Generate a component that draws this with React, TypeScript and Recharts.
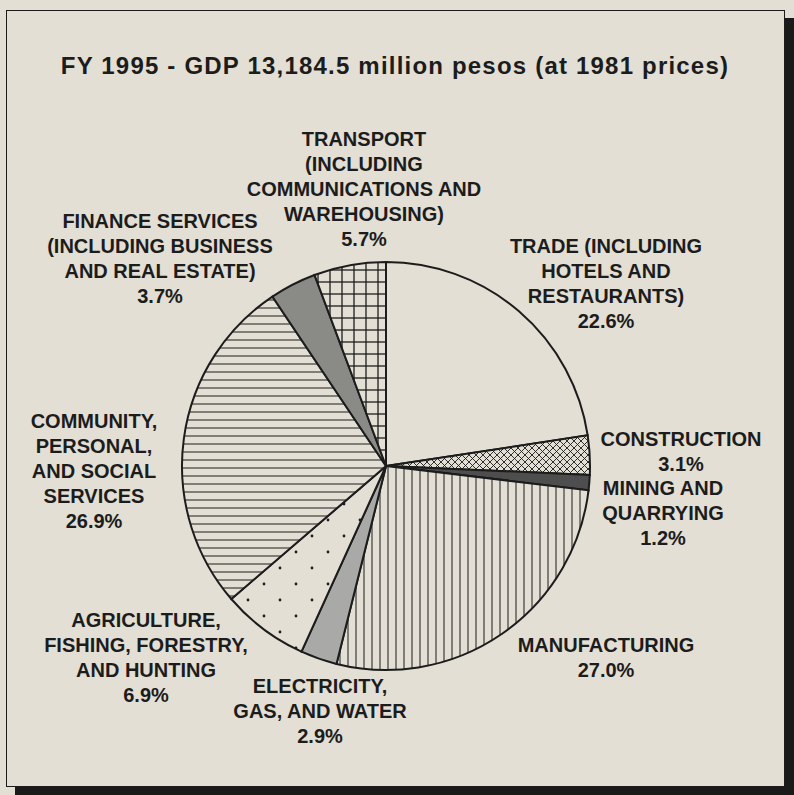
import React from "react";
import { PieChart, Pie, Cell } from "recharts";

// FY 1995 GDP shares, clockwise from 12 o'clock
const sectors = [
  "TRADE (INCLUDING HOTELS AND RESTAURANTS)",
  "CONSTRUCTION",
  "MINING AND QUARRYING",
  "MANUFACTURING",
  "ELECTRICITY, GAS, AND WATER",
  "AGRICULTURE, FISHING, FORESTRY, AND HUNTING",
  "COMMUNITY, PERSONAL, AND SOCIAL SERVICES",
  "FINANCE SERVICES (INCLUDING BUSINESS AND REAL ESTATE)",
  "TRANSPORT (INCLUDING COMMUNICATIONS AND WAREHOUSING)",
];
const shares = [22.6, 3.1, 1.2, 27.0, 2.9, 6.9, 26.9, 3.7, 5.7];
const labelLines = [
  ["TRADE (INCLUDING", "HOTELS AND", "RESTAURANTS)"],
  ["CONSTRUCTION"],
  ["MINING AND", "QUARRYING"],
  ["MANUFACTURING"],
  ["ELECTRICITY,", "GAS, AND WATER"],
  ["AGRICULTURE,", "FISHING, FORESTRY,", "AND HUNTING"],
  ["COMMUNITY,", "PERSONAL,", "AND SOCIAL", "SERVICES"],
  ["FINANCE SERVICES", "(INCLUDING BUSINESS", "AND REAL ESTATE)"],
  ["TRANSPORT", "(INCLUDING", "COMMUNICATIONS AND", "WAREHOUSING)"],
];

const BG = "#e3dfd5";
const INK = "#1c1c1c";
const FONT = "'Liberation Sans', Arial, sans-serif";

const fills = [
  BG,
  "url(#cross)",
  "#4e4e4e",
  "url(#vlines)",
  "#a9a9a7",
  "url(#dots)",
  "url(#hlines)",
  "#8a8a87",
  "url(#grid)",
];

// where each label block sits (centre x, first baseline y)
const labelPos = [
  [606, 253],
  [681, 446],
  [663, 495],
  [606, 652],
  [320, 693],
  [146, 627],
  [94, 428],
  [160, 228],
  [364, 146],
];

const data = sectors.map((name, i) => ({ name, value: shares[i] }));

function SliceLabel(props: any) {
  const i = props.index;
  const [x, y] = labelPos[i];
  const lines = [...labelLines[i], `${shares[i].toFixed(1)}%`];
  return (
    <text
      x={x}
      y={y}
      textAnchor="middle"
      fontFamily={FONT}
      fontWeight="bold"
      fontSize={20}
      fill={INK}
    >
      {lines.map((l, k) => (
        <tspan key={k} x={x} y={y + k * 25}>
          {l}
        </tspan>
      ))}
    </text>
  );
}

export default function App() {
  return (
    <div
      style={{
        position: "absolute",
        left: 0,
        top: 0,
        width: 794,
        height: 795,
        background: BG,
        overflow: "hidden",
      }}
    >
      <svg width={0} height={0} style={{ position: "absolute" }}>
        <defs>
          <pattern id="vlines" width={8} height={8} patternUnits="userSpaceOnUse">
            <rect width={8} height={8} fill={BG} />
            <line x1={4} y1={0} x2={4} y2={8} stroke={INK} strokeWidth={1} />
          </pattern>
          <pattern id="hlines" width={8} height={8} patternUnits="userSpaceOnUse">
            <rect width={8} height={8} fill={BG} />
            <line x1={0} y1={4} x2={8} y2={4} stroke={INK} strokeWidth={1} />
          </pattern>
          <pattern id="grid" width={12} height={12} patternUnits="userSpaceOnUse">
            <rect width={12} height={12} fill={BG} />
            <line x1={6} y1={0} x2={6} y2={12} stroke={INK} strokeWidth={1.3} />
            <line x1={0} y1={6} x2={12} y2={6} stroke={INK} strokeWidth={1.3} />
          </pattern>
          <pattern id="cross" width={7} height={7} patternUnits="userSpaceOnUse">
            <rect width={7} height={7} fill={BG} />
            <line x1={0} y1={0} x2={7} y2={7} stroke={INK} strokeWidth={0.9} />
            <line x1={7} y1={0} x2={0} y2={7} stroke={INK} strokeWidth={0.9} />
          </pattern>
          <pattern id="dots" width={32} height={32} patternUnits="userSpaceOnUse">
            <rect width={32} height={32} fill={BG} />
            <circle cx={8} cy={8} r={1.4} fill={INK} />
            <circle cx={24} cy={24} r={1.4} fill={INK} />
          </pattern>
        </defs>
      </svg>

      {/* frame with drop shadow */}
      <div
        style={{
          position: "absolute",
          left: 6,
          top: 10,
          width: 777,
          height: 775,
          border: `1.5px solid ${INK}`,
          boxShadow: "9px 8px 0 #1a1a1a",
          background: BG,
        }}
      />

      <div
        style={{
          position: "absolute",
          left: 0,
          top: 52,
          width: 790,
          textAlign: "center",
          fontFamily: FONT,
          fontWeight: "bold",
          fontSize: 24,
          letterSpacing: 1.2,
          color: INK,
        }}
      >
        FY 1995 - GDP 13,184.5 million pesos (at 1981 prices)
      </div>

      <div style={{ position: "absolute", left: 0, top: 0 }}>
        <PieChart width={794} height={795}>
          <Pie
            data={data}
            dataKey="value"
            nameKey="name"
            cx={381}
            cy={461}
            outerRadius={204}
            startAngle={90}
            endAngle={-270}
            stroke={INK}
            strokeWidth={2}
            label={SliceLabel}
            labelLine={false}
            isAnimationActive={false}
          >
            {data.map((d, i) => (
              <Cell key={d.name} fill={fills[i]} />
            ))}
          </Pie>
        </PieChart>
      </div>
    </div>
  );
}
